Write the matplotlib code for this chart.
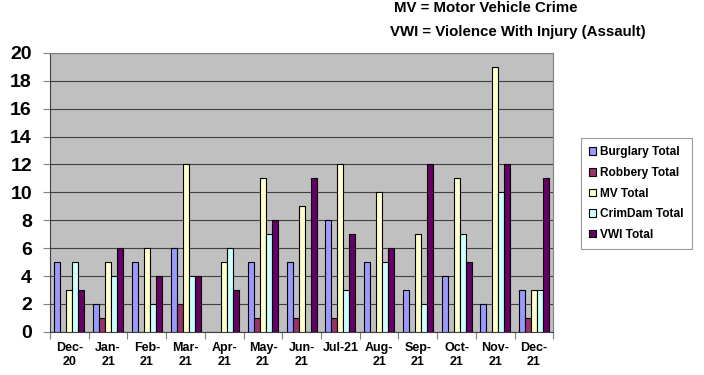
import matplotlib
matplotlib.use('Agg')
import matplotlib.pyplot as plt
from matplotlib.ticker import FixedLocator
import numpy as np

plt.rcParams['font.family'] = ['Liberation Sans', 'DejaVu Sans']

# Datos
meses = ['Dec-\n20', 'Jan-\n21', 'Feb-\n21', 'Mar-\n21', 'Apr-\n21', 'May-\n21', 'Jun-\n21',
         'Jul-21', 'Aug-\n21', 'Sep-\n21', 'Oct-\n21', 'Nov-\n21', 'Dec-\n21']
burglary = [5, 2, 5, 6, 0, 5, 5, 8, 5, 3, 4, 2, 3]
robbery = [0, 1, 0, 2, 0, 1, 1, 1, 0, 0, 0, 0, 1]
mv = [3, 5, 6, 12, 5, 11, 9, 12, 10, 7, 11, 19, 3]
crimdam = [5, 4, 2, 4, 6, 7, 0, 3, 5, 2, 7, 10, 3]
vwi = [3, 6, 4, 4, 3, 8, 11, 7, 6, 12, 5, 12, 11]

series = [('Burglary Total', burglary, '#9999FF'),
          ('Robbery Total', robbery, '#993366'),
          ('MV Total', mv, '#FFFFCC'),
          ('CrimDam Total', crimdam, '#CCFFFF'),
          ('VWI Total', vwi, '#660066')]

fig = plt.figure(figsize=(7.04, 3.75), dpi=100)
ax = fig.add_axes([0.071, 0.115, 0.715, 0.744])
ax.set_facecolor('#C0C0C0')

x = np.arange(len(meses))
ancho = 0.155
for i, (nombre, valores, color) in enumerate(series):
    ax.bar(x + (i - 2) * ancho, valores, ancho, color=color, edgecolor='black',
           linewidth=0.8, label=nombre, zorder=3)

ax.set_xlim(-0.5, len(meses) - 0.5)
ax.set_ylim(0, 20)
ax.set_yticks(range(0, 21, 2))
ax.tick_params(axis='y', labelsize=14, length=5, width=0.8, color='#808080', pad=8)
for lbl in ax.get_yticklabels():
    lbl.set_fontweight('bold')

ax.set_xticks(x)
ax.set_xticklabels(meses, fontsize=9, fontweight='bold', linespacing=1.3)
ax.tick_params(axis='x', which='major', length=0, pad=7)
ax.xaxis.set_minor_locator(FixedLocator(np.arange(-0.5, len(meses), 1)))
ax.tick_params(axis='x', which='minor', length=5, width=0.8, color='#808080')

ax.grid(axis='y', color='#404040', linewidth=0.8, zorder=0)
ax.set_axisbelow(True)
for lado in ['top', 'right']:
    ax.spines[lado].set_color('#808080')
ax.spines['left'].set_color('#404040')
ax.spines['bottom'].set_color('#404040')

leg = fig.legend(loc='upper left', bbox_to_anchor=(0.825, 0.632), borderaxespad=0,
                 prop={'weight': 'bold', 'size': 8.6}, frameon=True, fancybox=False,
                 handlelength=0.6, handleheight=0.6, handletextpad=0.3,
                 labelspacing=0.72, borderpad=0.7, edgecolor='#808080')
leg.get_frame().set_linewidth(0.8)

fig.text(0.56, 0.98, 'MV = Motor Vehicle Crime', fontsize=10.8, fontweight='bold',
         va='center', ha='left')
fig.text(0.554, 0.915, 'VWI = Violence With Injury (Assault)', fontsize=10.8,
         fontweight='bold', va='center', ha='left')

fig.savefig('out.png', dpi=100)
